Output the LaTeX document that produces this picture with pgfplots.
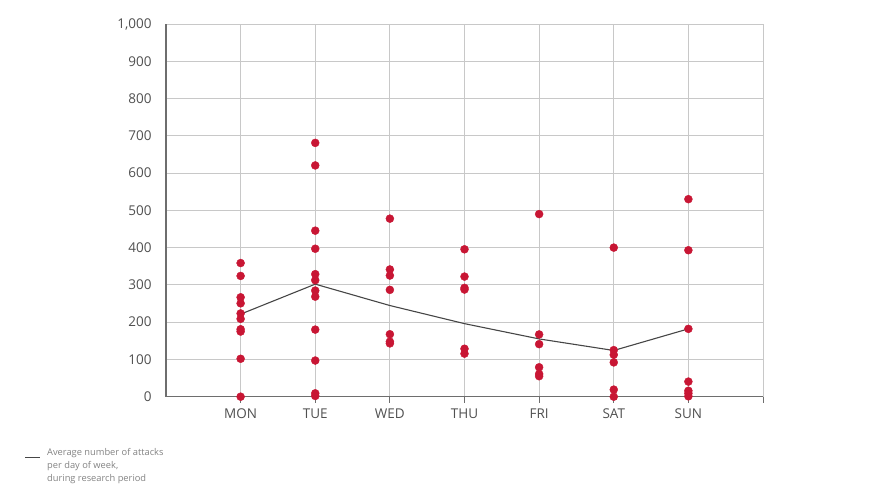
\documentclass[border=0pt]{standalone}
\usepackage{pgfplots}
\pgfplotsset{compat=1.18}
\usepackage{fontspec}
\setmainfont{Open Sans}
\definecolor{dotred}{RGB}{200,22,52}
\definecolor{gridgray}{RGB}{200,200,200}
\definecolor{axisgray}{RGB}{110,110,110}
\definecolor{labelgray}{RGB}{80,80,80}
\definecolor{leggray}{RGB}{130,130,130}
\definecolor{linegray}{RGB}{70,70,70}
\begin{document}
\begin{tikzpicture}[x=1pt,y=1pt]
\path[use as bounding box] (0,0) rectangle (877,502);
\begin{axis}[
  scale only axis,
  width=597pt, height=372.7pt,
  at={(166pt,105.3pt)}, anchor=south west,
  xmin=-1, xmax=7, ymin=0, ymax=1000,
  xtick={0,1,2,3,4,5,6,7},
  xticklabels={MON,TUE,WED,THU,FRI,SAT,SUN,{}},
  ytick={0,100,...,1000},
  grid=major,
  major grid style={gridgray, line width=0.9pt},
  axis x line*=bottom, axis y line*=left,
  axis line style={axisgray, line width=1.3pt},
  x tick style={axisgray, line width=1pt},
  y tick style={draw=none},
  tick align=outside, major tick length=6pt,
  clip=false,
  /pgf/number format/assume math mode=true,
  /pgf/number format/1000 sep={,},
  ticklabel style={font=\fontsize{13.5}{15}\selectfont, text=labelgray},
  yticklabel style={xshift=-5pt},
  xticklabel style={yshift=-2.5pt},
]
\addplot[only marks, mark=*, mark size=4pt, color=dotred, mark options={draw=dotred, fill=dotred}] table {
x y
0 358.6
0 324
0 266.7
0 250.5
0 223.4
0 208.9
0 181
0 174.8
0 101.8
0 0
1 681
1 620.5
1 445.5
1 397
1 328.8
1 312.6
1 284.7
1 268.5
1 180
1 97
1 9
1 2
2 477.7
2 341.4
2 325
2 286.6
2 167.6
2 147.7
2 143
3 395.5
3 322.3
3 292
3 287.5
3 128.7
3 115.5
4 490
4 167
4 141
4 79
4 61
4 55
5 400
5 125
5 112.5
5 92
5 19
5 0
6 530
6 393
6 182
6 40.5
6 16
6 9
6 1
};
\addplot[linegray, line width=1.1pt, no marks] table {
x y
0 221.5
1 302
2 244.6
3 196
4 155
5 124
6 182
};
\end{axis}
\draw[linegray, line width=1pt] (25,44) -- (40,44);
\node[anchor=north west, align=left, text=leggray, inner sep=0pt,
      font=\fontsize{9.3}{13}\selectfont] at (47,53.5)
  {Average number of attacks\\per day of week,\\during research period};
\end{tikzpicture}
\end{document}
